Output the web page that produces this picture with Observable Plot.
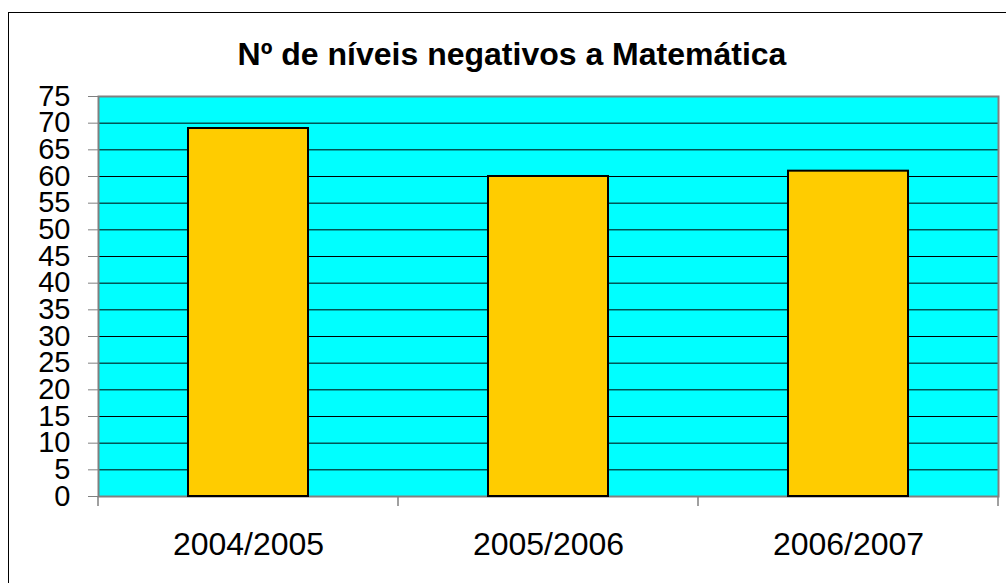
<!DOCTYPE html>
<html>
<head>
<meta charset="utf-8">
<script src="https://cdn.jsdelivr.net/npm/d3@7"></script>
<script src="https://cdn.jsdelivr.net/npm/@observablehq/plot@0.6"></script>
<style>
html,body{margin:0;padding:0;background:#fff;overflow:hidden}
#wrap{position:relative;width:1006px;height:583px;overflow:hidden}
#frame{position:absolute;left:8px;top:12px;width:1100px;height:700px;border-left:1px solid #000;border-top:1px solid #000;box-sizing:border-box}
#title{position:absolute;left:9px;width:1006px;top:36px;line-height:32px;text-align:center;font:bold 32px "Liberation Sans",Arial,sans-serif;color:#000;white-space:nowrap}
#chart{position:absolute;left:0;top:0}
</style>
</head>
<body>
<div id="wrap">
  <div id="frame"></div>
  <div id="title">Nº de níveis negativos a Matemática</div>
  <div id="chart"></div>
</div>
<script>
const seasons = ["2004/2005", "2005/2006", "2006/2007"];
const values = [69, 60, 61];
const yTicks = [0, 5, 10, 15, 20, 25, 30, 35, 40, 45, 50, 55, 60, 65, 70, 75];

const data = seasons.map((s, i) => ({season: s, value: values[i]}));

function bandBoundaries(index, scales, vals, dimensions) {
  const x = scales.x;
  const step = typeof x.step === "function" ? x.step() : scales.scales.x.step;
  const bw = typeof x.bandwidth === "function" ? x.bandwidth() : scales.scales.x.bandwidth;
  const y0 = scales.y(0);
  const g = d3.create("svg:g").attr("stroke", "#808080").attr("stroke-width", 1.5);
  const edges = seasons.map(s => x(s) - (step - bw) / 2);
  edges.push(x(seasons[seasons.length - 1]) + bw + (step - bw) / 2);
  for (const e of edges) {
    g.append("line").attr("x1", e).attr("x2", e).attr("y1", y0).attr("y2", y0 + 10);
  }
  return g.node();
}

const chart = Plot.plot({
  width: 1006,
  height: 583,
  marginLeft: 98,
  marginRight: 8,
  marginTop: 96,
  marginBottom: 87,
  style: {fontFamily: "'Liberation Sans', Arial, sans-serif", color: "#000", background: "transparent", overflow: "visible"},
  x: {domain: seasons, paddingInner: 0.6, paddingOuter: 0.3, align: 0.5, label: null},
  y: {domain: [0, 75], label: null},
  marks: [
    Plot.frame({fill: "#00ffff", stroke: null}),
    Plot.gridY(yTicks, {stroke: "#000", strokeOpacity: 1, strokeWidth: 1}),
    Plot.frame({stroke: "#808080", strokeWidth: 2}),
    Plot.barY(data, {x: "season", y: "value", fill: "#ffcc00", stroke: "#000", strokeWidth: 2}),
    Plot.axisY(yTicks, {tickSize: 10, tickPadding: 18, fontSize: 29, stroke: "#808080", fill: "#000", label: null}),
    Plot.axisX({tickSize: 0, tickPadding: 36, fontSize: 32, fill: "#000", label: null}),
    bandBoundaries
  ]
});
document.getElementById("chart").appendChild(chart);
</script>
</body>
</html>
